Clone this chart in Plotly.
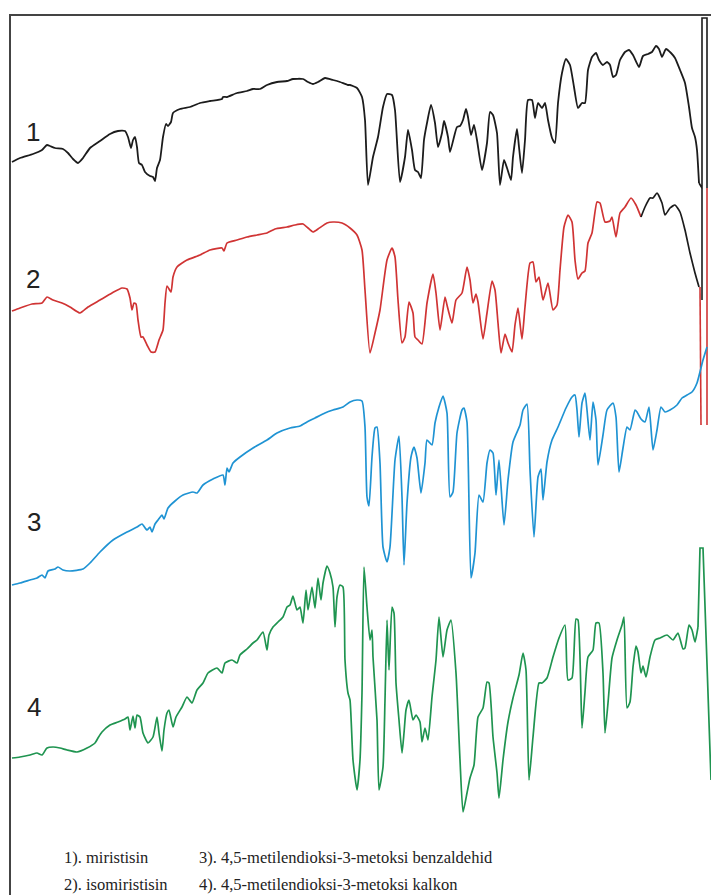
import plotly.graph_objects as go

# Positions along the (unlabelled) wavenumber axis and offset signal values
# x: position across the frame (chart units), y: offset signal (chart units, increasing downwards)

t1_x = [12, 20, 33, 42, 47, 50, 55, 63, 68, 73, 78, 83, 90, 100, 110, 118, 125, 128, 131, 133, 135, 137,
        139, 142, 145, 150, 153, 155, 157, 160, 163, 166, 168, 171, 173, 180, 190, 200, 210, 222, 223, 227,
        237, 247, 253, 260, 267, 277, 287, 293, 303, 308, 313, 318, 325, 333, 340, 348, 350, 357, 362, 365,
        368, 373, 378, 383, 387, 392, 395, 400, 405, 408, 412, 415, 418, 421, 424, 427, 431, 435, 438, 442,
        444, 448, 450, 454, 457, 460, 463, 466, 468, 471, 474, 477, 482, 487, 490, 493, 497, 500, 504, 507,
        511, 513, 517, 519, 522, 525, 528, 532, 535, 538, 542, 545, 548, 552, 555, 558, 562, 566, 570, 574,
        578, 582, 585, 588, 592, 596, 599, 603, 607, 610, 613, 616, 620, 625, 629, 633, 639, 643, 648, 652,
        656, 659, 662, 666, 671, 675, 680, 685, 689, 692, 695, 697, 699]
t1_y = [162, 158, 154, 150, 145, 146, 148, 149, 153, 159, 163, 158, 148, 141, 134, 131, 131, 137, 148, 140,
        137, 147, 163, 165, 172, 176, 177, 181, 168, 160, 137, 124, 126, 122, 113, 109, 107, 103, 101, 99, 97,
        97, 93, 91, 89, 89, 85, 82, 81, 79, 79, 82, 84, 82, 78, 80, 82, 85, 85, 88, 97, 120, 185, 157, 137,
        107, 94, 95, 110, 182, 157, 130, 150, 170, 172, 178, 140, 123, 105, 123, 147, 133, 121, 137, 152, 137,
        127, 126, 120, 109, 117, 135, 125, 140, 170, 143, 112, 115, 133, 185, 160, 168, 180, 157, 129, 147,
        173, 140, 100, 100, 118, 103, 108, 103, 120, 138, 143, 103, 73, 59, 65, 87, 108, 103, 103, 70, 57, 53,
        60, 65, 62, 65, 77, 75, 60, 52, 50, 55, 67, 56, 54, 52, 46, 49, 57, 49, 53, 58, 70, 83, 107, 128, 137,
        150, 183]

# black vertical artefact (box) at the right edge of spectrum 1
t1e_x = [699, 702, 702, 707, 707]
t1e_y = [183, 188, 18, 18, 188]

t2_x = [12, 20, 32, 42, 47, 53, 62, 70, 80, 88, 100, 112, 122, 127, 130, 132, 134, 136, 138, 141, 143, 147,
        151, 155, 159, 163, 165, 167, 171, 173, 177, 187, 200, 210, 222, 224, 227, 237, 247, 257, 267, 275,
        287, 295, 303, 308, 313, 318, 327, 333, 342, 350, 357, 362, 365, 370, 375, 380, 387, 392, 395, 398,
        402, 405, 409, 413, 415, 418, 422, 427, 433, 436, 440, 445, 447, 452, 456, 462, 467, 470, 473, 476,
        478, 483, 487, 492, 495, 498, 501, 505, 508, 512, 515, 518, 522, 525, 530, 533, 536, 539, 543, 548,
        553, 557, 560, 564, 568, 572, 575, 578, 582, 585, 588, 592, 597, 600, 605, 610, 612, 616, 620, 625,
        631, 636, 641]
t2_y = [311, 308, 304, 303, 297, 300, 303, 307, 313, 307, 300, 293, 288, 289, 298, 310, 303, 304, 320, 337,
        337, 345, 352, 352, 340, 330, 303, 286, 292, 277, 267, 260, 255, 250, 248, 251, 243, 240, 237, 235,
        233, 229, 227, 225, 224, 228, 232, 229, 223, 222, 223, 228, 235, 250, 290, 353, 333, 310, 260, 248,
        257, 300, 343, 337, 302, 313, 337, 340, 344, 303, 274, 293, 330, 297, 305, 323, 300, 293, 267, 280,
        303, 294, 302, 339, 313, 281, 290, 323, 353, 334, 343, 352, 325, 308, 339, 307, 263, 262, 282, 277,
        300, 283, 310, 305, 270, 227, 215, 222, 260, 279, 273, 271, 243, 233, 202, 203, 222, 221, 217, 237,
        213, 207, 198, 205, 217]

# red vertical artefacts at the right edge of spectrum 2
t2r_x = [700, 701, None, 707, 707]
t2r_y = [287, 425, None, 188, 425]

# overlapping black segment at the end of spectrum 2
t2b_x = [641, 645, 650, 653, 657, 662, 665, 670, 675, 680, 685, 690, 695, 699]
t2b_y = [217, 207, 198, 198, 193, 203, 215, 208, 205, 212, 230, 253, 273, 287]
t2k_x = [702, 702]
t2k_y = [188, 300]

t3_x = [12, 20, 30, 37, 42, 45, 48, 55, 58, 63, 70, 83, 90, 100, 113, 127, 137, 142, 147, 150, 152, 155,
        158, 162, 164, 168, 175, 183, 193, 197, 203, 213, 223, 225, 227, 229, 233, 240, 253, 267, 277, 290,
        300, 307, 315, 325, 333, 343, 350, 357, 362, 365, 367, 369, 372, 375, 377, 380, 383, 387, 390, 395,
        399, 402, 404, 407, 411, 414, 417, 421, 425, 427, 432, 435, 439, 443, 447, 450, 453, 457, 462, 464,
        467, 471, 475, 479, 483, 487, 490, 493, 496, 499, 504, 508, 513, 520, 523, 527, 530, 534, 538, 541,
        543, 547, 552, 558, 566, 572, 575, 577, 579, 582, 585, 587, 590, 593, 596, 598, 603, 607, 613, 616,
        619, 623, 627, 630, 635, 637, 641, 645, 649, 653, 657, 661, 665, 670, 677, 682, 687, 692, 697, 703, 707]
t3_y = [585, 583, 580, 578, 575, 578, 571, 569, 567, 570, 571, 569, 563, 552, 540, 532, 527, 524, 530, 527,
        532, 524, 520, 515, 519, 508, 501, 495, 492, 493, 485, 479, 475, 485, 468, 472, 463, 457, 448, 440,
        433, 428, 426, 422, 418, 413, 410, 407, 402, 400, 401, 427, 497, 506, 457, 428, 427, 463, 547, 562,
        547, 460, 436, 497, 565, 503, 457, 447, 458, 493, 463, 440, 445, 423, 407, 396, 413, 497, 492, 433,
        410, 408, 422, 578, 553, 495, 502, 463, 450, 453, 495, 460, 525, 480, 442, 425, 410, 404, 470, 537,
        477, 469, 500, 462, 440, 427, 408, 397, 395, 410, 437, 403, 393, 410, 440, 402, 420, 465, 435, 410,
        403, 417, 472, 448, 427, 430, 410, 412, 419, 422, 407, 450, 430, 407, 412, 410, 405, 398, 395, 392,
        383, 360, 347]

t4_x = [12, 20, 30, 37, 42, 47, 53, 60, 67, 77, 87, 95, 98, 102, 110, 118, 125, 128, 130, 133, 135, 137,
        140, 143, 148, 153, 157, 159, 162, 164, 167, 169, 173, 176, 182, 187, 192, 197, 203, 208, 217, 222,
        225, 232, 237, 240, 247, 253, 257, 263, 267, 269, 273, 278, 283, 287, 290, 293, 297, 300, 303, 306,
        308, 312, 315, 318, 321, 323, 327, 330, 333, 335, 337, 340, 343, 345, 348, 350, 353, 357, 360, 362,
        364, 367, 370, 372, 373, 377, 379, 383, 385, 387, 389, 392, 394, 396, 399, 402, 404, 406, 409, 413,
        416, 420, 422, 425, 428, 432, 436, 439, 443, 447, 451, 456, 460, 463, 467, 470, 474, 478, 483, 487,
        489, 493, 497, 499, 503, 508, 513, 519, 523, 526, 529, 533, 539, 542, 547, 553, 559, 565, 568, 572,
        576, 578, 582, 585, 588, 593, 596, 599, 603, 605, 608, 612, 617, 622, 624, 627, 630, 633, 636, 638,
        641, 643, 646, 650, 655, 660, 667, 673, 678, 683, 685, 689, 692, 695, 698]
t4_y = [758, 757, 755, 753, 755, 748, 747, 748, 750, 752, 748, 743, 738, 732, 725, 722, 719, 717, 730, 716,
        728, 715, 717, 733, 743, 737, 717, 733, 751, 730, 713, 710, 727, 717, 707, 697, 703, 690, 683, 673,
        668, 673, 663, 660, 663, 655, 649, 643, 640, 632, 650, 635, 627, 622, 617, 607, 605, 596, 610, 607,
        623, 590, 610, 587, 608, 578, 600, 583, 566, 573, 587, 627, 597, 585, 587, 660, 693, 700, 760, 790,
        760, 693, 567, 607, 640, 630, 657, 720, 790, 767, 700, 620, 670, 607, 613, 683, 720, 753, 733, 710,
        700, 720, 715, 722, 742, 728, 740, 697, 660, 617, 657, 630, 620, 673, 760, 812, 793, 778, 765, 717,
        708, 682, 683, 737, 773, 798, 760, 722, 698, 675, 653, 670, 780, 737, 683, 683, 678, 657, 638, 625,
        680, 678, 619, 620, 728, 692, 657, 650, 623, 623, 673, 733, 703, 658, 640, 625, 617, 708, 702, 667,
        646, 652, 673, 666, 677, 657, 640, 638, 635, 640, 633, 649, 648, 625, 630, 642, 627]

# green vertical artefact at the right edge of spectrum 4
t4e_x = [698, 700, 703, 711]
t4e_y = [627, 548, 548, 780]

labels = ["1", "2", "3", "4"]
label_x = [33, 33, 34, 34]
label_y = [132, 279, 522, 707]

legend_left = ["1). miristisin", "2). isomiristisin"]
legend_right = ["3). 4,5-metilendioksi-3-metoksi benzaldehid", "4). 4,5-metilendioksi-3-metoksi kalkon"]
legend_y = [857, 884]

BLACK = "#1c1c1c"
RED = "#d03434"
BLUE = "#1f93d3"
GREEN = "#1f9450"

SM = dict(shape="spline", smoothing=0.5)

fig = go.Figure()


def add(x, y, color, width, smooth=True):
    line = dict(color=color, width=width)
    if smooth:
        line.update(SM)
    fig.add_trace(go.Scatter(x=x, y=y, mode="lines", line=line, hoverinfo="skip"))


add(t1_x, t1_y, BLACK, 1.8)
add(t1e_x, t1e_y, BLACK, 1.6, smooth=False)
add(t2_x, t2_y, RED, 1.7)
add(t2b_x, t2b_y, BLACK, 1.7)
add(t2k_x, t2k_y, BLACK, 1.6, smooth=False)
add(t2r_x, t2r_y, RED, 1.6, smooth=False)
add(t3_x, t3_y, BLUE, 1.7)
add(t4_x, t4_y, GREEN, 1.7)
add(t4e_x, t4e_y, GREEN, 1.7, smooth=False)

for t, x, y in zip(labels, label_x, label_y):
    fig.add_annotation(x=x, y=y, xref="x", yref="y", text=t, showarrow=False,
                       font=dict(family="Liberation Sans, Arial", size=26, color="#222222"))

for t, y in zip(legend_left, legend_y):
    fig.add_annotation(x=62, y=y, xref="x", yref="y", text=t, showarrow=False, xanchor="left",
                       font=dict(family="Liberation Serif, Times New Roman", size=16.5, color="#222222"))
for t, y in zip(legend_right, legend_y):
    fig.add_annotation(x=197, y=y, xref="x", yref="y", text=t, showarrow=False, xanchor="left",
                       font=dict(family="Liberation Serif, Times New Roman", size=16.5, color="#222222"))

fig.update_layout(
    width=711, height=895,
    margin=dict(l=11, r=0, t=16, b=0),
    paper_bgcolor="white", plot_bgcolor="white",
    showlegend=False,
    xaxis=dict(range=[11, 711], side="top", showline=True, linecolor="#444444", linewidth=1.6,
               showgrid=False, zeroline=False, showticklabels=False, ticks=""),
    yaxis=dict(range=[895, 16], showline=True, linecolor="#444444", linewidth=1.6,
               showgrid=False, zeroline=False, showticklabels=False, ticks=""),
)

fig.write_html("out.html", config={"displayModeBar": False},
               post_script="document.body.style.margin='0';document.body.style.overflow='hidden';")
